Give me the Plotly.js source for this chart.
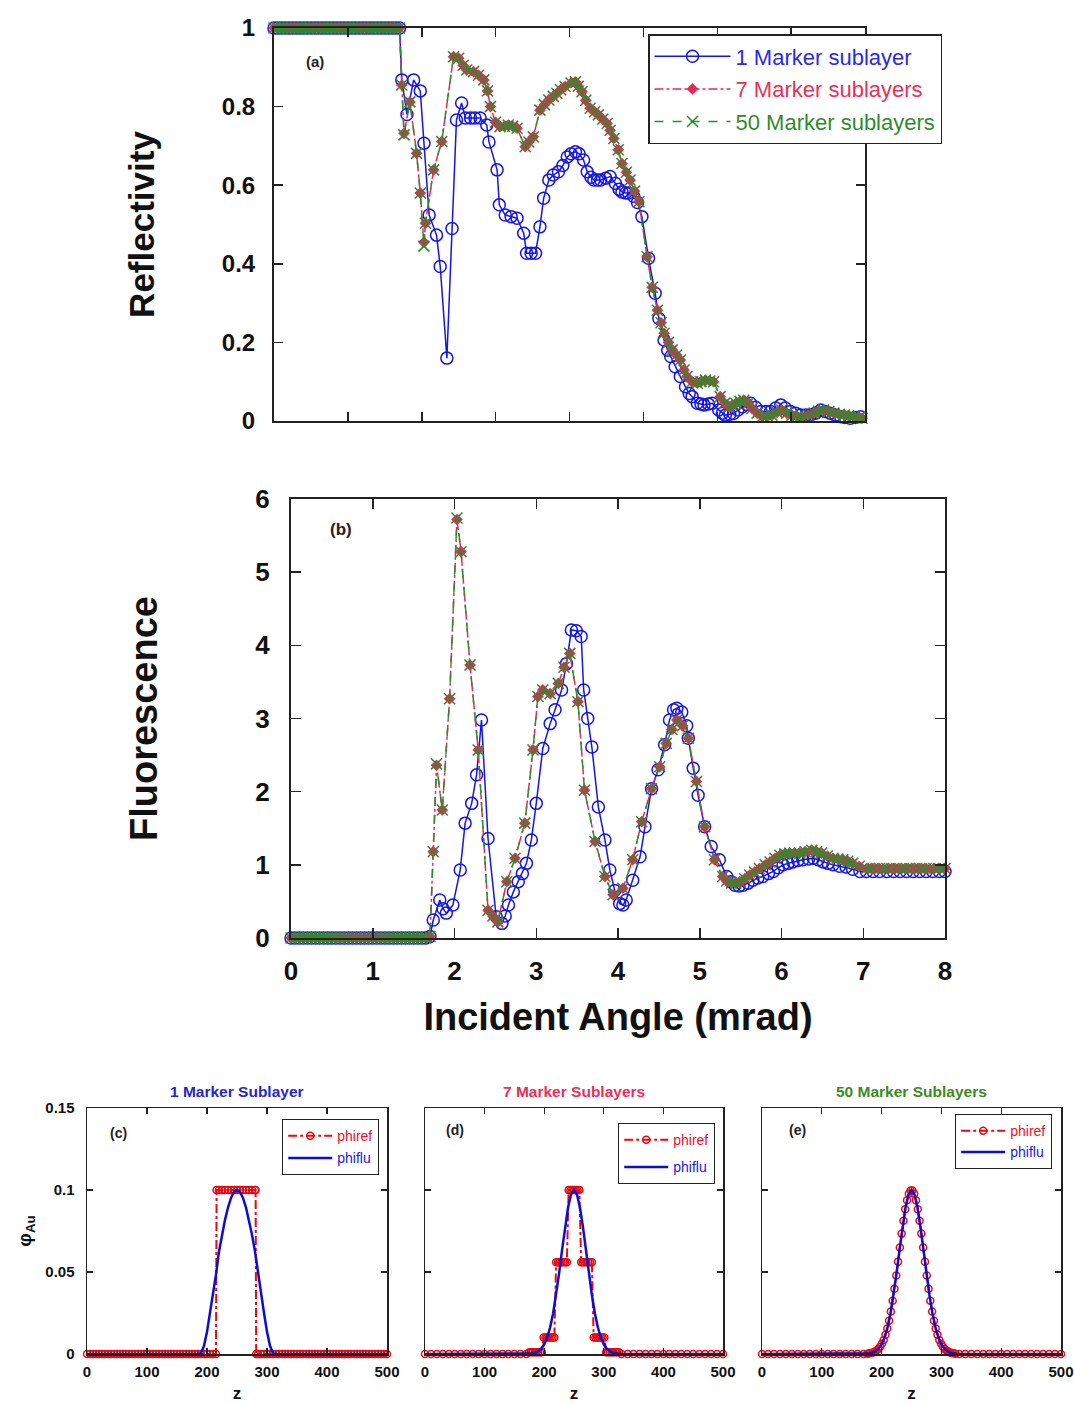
<!DOCTYPE html>
<html><head><meta charset="utf-8">
<script src="https://cdn.plot.ly/plotly-3.0.1.min.js"></script>
<style>html,body{margin:0;padding:0;background:#fff}</style>
</head><body>
<div id="chart" style="width:1074px;height:1404px"></div>
<script>
// ---------- DATA ----------
const flatAngles = [0,0.05,0.1,0.15,0.2,0.25,0.3,0.35,0.4,0.45,0.5,0.55,0.6,0.65,0.7,0.75,0.8,0.85,0.9,0.95,1,1.05,1.1,1.15,1.2,1.25,1.3,1.35,1.4,1.45,1.5,1.55,1.6,1.65];
const flatOnes = [1,1,1,1,1,1,1,1,1,1,1,1,1,1,1,1,1,1,1,1,1,1,1,1,1,1,1,1,1,1,1,1,1,1];
const flatZeros = [0,0,0,0,0,0,0,0,0,0,0,0,0,0,0,0,0,0,0,0,0,0,0,0,0,0,0,0,0,0,0,0,0,0];

// (a) Reflectivity
const angleRefl1 = flatAngles.concat([1.70,1.73,1.80,1.89,1.98,2.03,2.10,2.20,2.25,2.34,2.41,2.47,2.54,2.59,2.66,2.72,2.79,2.88,2.91,3.02,3.05,3.13,3.21,3.29,3.38,3.42,3.48,3.54,3.60,3.65,3.72,3.78,3.85,3.91,3.97,4.02,4.08,4.13,4.19,4.24,4.29,4.33,4.38,4.42,4.49,4.55,4.62,4.67,4.71,4.76,4.80,4.87,4.92,4.98,5.07,5.16,5.21,5.28,5.33,5.37,5.43,5.50,5.57,5.62,5.66,5.73,5.78,5.82,5.88,5.93,6.02,6.07,6.11,6.17,6.22,6.28,6.34,6.40,6.45,6.52,6.59,6.66,6.72,6.79,6.86,6.92,6.99,7.06,7.13,7.20,7.26,7.33,7.40,7.46,7.53,7.60,7.67,7.73,7.80,7.87,7.94]);
const refl1 = flatOnes.concat([1.0,0.868,0.78,0.868,0.84,0.707,0.524,0.473,0.393,0.16,0.49,0.766,0.809,0.771,0.771,0.771,0.771,0.753,0.71,0.639,0.55,0.524,0.52,0.516,0.478,0.427,0.427,0.427,0.494,0.567,0.613,0.626,0.634,0.65,0.672,0.68,0.685,0.68,0.664,0.634,0.62,0.613,0.613,0.613,0.618,0.622,0.605,0.59,0.583,0.58,0.58,0.571,0.556,0.52,0.414,0.325,0.261,0.206,0.18,0.164,0.138,0.113,0.087,0.07,0.062,0.045,0.043,0.041,0.043,0.045,0.028,0.02,0.015,0.017,0.019,0.028,0.036,0.042,0.045,0.035,0.024,0.024,0.024,0.033,0.041,0.033,0.024,0.02,0.015,0.015,0.015,0.02,0.028,0.024,0.02,0.015,0.011,0.009,0.007,0.009,0.011]);
const angleRefl7 = flatAngles.concat([1.70,1.73,1.76,1.84,1.93,1.98,2.03,2.05,2.16,2.27,2.43,2.50,2.56,2.61,2.70,2.77,2.84,2.89,2.93,3.00,3.06,3.12,3.17,3.23,3.29,3.40,3.45,3.51,3.60,3.66,3.72,3.78,3.83,3.88,3.94,4.02,4.08,4.12,4.17,4.22,4.28,4.34,4.39,4.45,4.51,4.55,4.60,4.66,4.71,4.77,4.82,4.88,4.94,5.05,5.12,5.19,5.24,5.28,5.34,5.39,5.45,5.50,5.55,5.59,5.66,5.73,5.78,5.84,5.90,5.95,6.04,6.10,6.16,6.20,6.25,6.31,6.36,6.42,6.47,6.54,6.61,6.68,6.74,6.81,6.87,6.94,7.01,7.08,7.15,7.23,7.31,7.37,7.44,7.51,7.58,7.65,7.72,7.78,7.85,7.92,7.96]);
const refl7 = flatOnes.concat([1.0,0.855,0.732,0.812,0.681,0.58,0.455,0.503,0.639,0.711,0.927,0.923,0.905,0.893,0.889,0.88,0.868,0.84,0.80,0.76,0.749,0.75,0.753,0.75,0.745,0.698,0.71,0.723,0.791,0.805,0.817,0.826,0.834,0.843,0.851,0.86,0.863,0.852,0.838,0.816,0.796,0.787,0.779,0.768,0.757,0.74,0.719,0.69,0.655,0.633,0.613,0.585,0.558,0.418,0.34,0.282,0.25,0.223,0.2,0.181,0.168,0.155,0.13,0.113,0.1,0.096,0.1,0.104,0.102,0.1,0.062,0.045,0.036,0.04,0.045,0.05,0.053,0.045,0.032,0.02,0.011,0.012,0.015,0.022,0.028,0.02,0.015,0.012,0.011,0.015,0.02,0.025,0.028,0.024,0.02,0.017,0.015,0.013,0.011,0.009,0.007]);
const angleRefl50 = angleRefl7;
const refl50 = flatOnes.concat([1.0,0.855,0.728,0.812,0.681,0.58,0.445,0.503,0.639,0.711,0.927,0.923,0.905,0.893,0.889,0.88,0.868,0.84,0.80,0.76,0.749,0.75,0.753,0.75,0.745,0.698,0.71,0.723,0.791,0.805,0.817,0.826,0.834,0.843,0.851,0.86,0.863,0.852,0.838,0.816,0.796,0.787,0.779,0.768,0.757,0.74,0.719,0.69,0.655,0.633,0.613,0.585,0.558,0.418,0.34,0.282,0.25,0.223,0.2,0.181,0.168,0.155,0.13,0.113,0.1,0.096,0.1,0.104,0.102,0.1,0.062,0.045,0.036,0.04,0.045,0.05,0.053,0.045,0.032,0.02,0.011,0.012,0.015,0.022,0.028,0.02,0.015,0.012,0.011,0.015,0.02,0.025,0.028,0.024,0.02,0.017,0.015,0.013,0.011,0.009,0.007]);

// (b) Fluorescence
const angleFluo1 = flatAngles.concat([1.70,1.74,1.82,1.86,1.90,1.98,2.07,2.13,2.21,2.27,2.33,2.41,2.51,2.58,2.62,2.66,2.72,2.78,2.83,2.88,2.94,3.00,3.08,3.17,3.23,3.31,3.37,3.43,3.49,3.55,3.58,3.63,3.68,3.76,3.84,3.90,3.96,4.02,4.06,4.10,4.18,4.27,4.33,4.41,4.49,4.57,4.63,4.68,4.72,4.78,4.84,4.86,4.92,4.98,5.06,5.14,5.24,5.33,5.38,5.43,5.48,5.53,5.59,5.65,5.71,5.77,5.84,5.90,5.96,6.02,6.08,6.14,6.20,6.26,6.33,6.39,6.45,6.51,6.57,6.63,6.71,6.79,6.87,6.96,7.04,7.12,7.20,7.29,7.37,7.45,7.53,7.61,7.69,7.77,7.85,7.93,8.0]);
const fluo1 = flatZeros.concat([0.02,0.246,0.52,0.40,0.34,0.45,0.93,1.57,1.84,2.23,2.98,1.36,0.29,0.2,0.3,0.45,0.63,0.77,0.88,1.02,1.34,1.84,2.59,2.93,3.12,3.39,3.75,4.21,4.2,4.12,3.39,3.0,2.61,1.79,1.34,0.93,0.65,0.47,0.45,0.52,0.79,1.11,1.52,2.04,2.30,2.64,2.98,3.12,3.14,3.09,2.9,2.73,2.32,1.95,1.52,1.25,1.07,0.84,0.77,0.72,0.71,0.72,0.75,0.79,0.82,0.84,0.88,0.91,0.96,1.00,1.02,1.04,1.06,1.07,1.08,1.09,1.07,1.04,1.02,1.00,0.98,0.97,0.94,0.91,0.91,0.91,0.91,0.91,0.91,0.91,0.91,0.91,0.91,0.91,0.91,0.91,0.91]);
const angleFluo7 = flatAngles.concat([1.70,1.74,1.78,1.85,1.94,2.03,2.08,2.19,2.29,2.41,2.47,2.53,2.64,2.74,2.86,2.96,3.02,3.08,3.17,3.27,3.34,3.41,3.51,3.59,3.72,3.84,3.94,4.06,4.18,4.29,4.41,4.51,4.59,4.66,4.72,4.79,4.86,4.96,5.06,5.18,5.28,5.33,5.39,5.44,5.49,5.55,5.61,5.67,5.73,5.80,5.86,5.92,5.98,6.04,6.10,6.16,6.22,6.29,6.37,6.43,6.49,6.56,6.63,6.69,6.75,6.81,6.87,6.95,7.04,7.12,7.20,7.29,7.37,7.45,7.53,7.61,7.69,7.77,7.86,7.93,8.0]);
const fluo7 = flatZeros.concat([0.02,1.18,2.36,1.75,3.27,5.72,5.28,3.73,2.57,0.38,0.30,0.22,0.77,1.09,1.57,2.57,3.3,3.39,3.34,3.48,3.7,3.89,3.23,2.02,1.32,0.84,0.59,0.68,1.07,1.59,2.04,2.34,2.66,2.85,2.98,2.9,2.73,2.14,1.52,1.07,0.84,0.78,0.75,0.75,0.77,0.81,0.86,0.9,0.95,1.0,1.04,1.09,1.13,1.15,1.16,1.16,1.16,1.18,1.20,1.18,1.16,1.12,1.09,1.08,1.07,1.05,1.02,0.98,0.95,0.95,0.95,0.95,0.95,0.95,0.95,0.95,0.95,0.95,0.95,0.95,0.95]);
const angleFluo50 = angleFluo7;
const fluo50 = flatZeros.concat([0.02,1.18,2.38,1.75,3.27,5.74,5.28,3.73,2.57,0.38,0.30,0.22,0.77,1.09,1.57,2.57,3.3,3.39,3.34,3.48,3.7,3.89,3.23,2.02,1.32,0.84,0.59,0.68,1.07,1.59,2.04,2.34,2.66,2.85,2.98,2.9,2.73,2.14,1.52,1.07,0.84,0.78,0.75,0.75,0.77,0.81,0.86,0.9,0.95,1.0,1.04,1.09,1.13,1.15,1.16,1.16,1.16,1.18,1.20,1.18,1.16,1.12,1.09,1.08,1.07,1.05,1.02,0.98,0.95,0.95,0.95,0.95,0.95,0.95,0.95,0.95,0.95,0.95,0.95,0.95,0.95]);

// (c) 1 marker sublayer
const zRefC = [0,5,10,15,20,25,30,35,40,45,50,55,60,65,70,75,80,85,90,95,100,105,110,115,120,125,130,135,140,145,150,155,160,165,170,175,180,185,190,195,200,205,210,215,216,220,225,230,235,240,245,250,255,260,265,270,275,280,281,282,285,290,295,300,305,310,315,320,325,330,335,340,345,350,355,360,365,370,375,380,385,390,395,400,405,410,415,420,425,430,435,440,445,450,455,460,465,470,475,480,485,490,495,500];
const phiRefC = [0,0,0,0,0,0,0,0,0,0,0,0,0,0,0,0,0,0,0,0,0,0,0,0,0,0,0,0,0,0,0,0,0,0,0,0,0,0,0,0,0,0,0,0,0.1,0.1,0.1,0.1,0.1,0.1,0.1,0.1,0.1,0.1,0.1,0.1,0.1,0.1,0.1,0,0,0,0,0,0,0,0,0,0,0,0,0,0,0,0,0,0,0,0,0,0,0,0,0,0,0,0,0,0,0,0,0,0,0,0,0,0,0,0,0,0,0,0,0];
const zFluC = [0,150,185,190,195,200,205,210,215,220,225,230,235,240,245,250,255,260,265,270,275,280,285,290,295,300,305,310,315,350,500];
const phiFluC = [0,0,0,0.0005,0.005,0.0135,0.025,0.0375,0.0485,0.0625,0.0727,0.0818,0.0893,0.0952,0.0988,0.1,0.0988,0.0952,0.0893,0.0818,0.0727,0.0625,0.0485,0.0375,0.025,0.0135,0.005,0.0005,0,0,0];

// (d) 7 marker sublayers
const zRefD = [0,10,20,30,40,50,60,70,80,90,100,110,120,130,140,150,160,170,175,178,181,184,187,190,193,196,199,202,205,208,211,214,217,220,223,226,229,232,235,238,241,244,247,250,253,256,259,262,265,268,271,274,277,280,283,286,289,292,295,298,301,304,307,310,313,316,319,322,325,330,340,350,360,370,380,390,400,410,420,430,440,450,460,470,480,490,500];
const phiRefD = [0,0,0,0,0,0,0,0,0,0,0,0,0,0,0,0,0,0,0.001,0.001,0.001,0.001,0.001,0.001,0.001,0.001,0.01,0.01,0.01,0.01,0.01,0.01,0.01,0.056,0.056,0.056,0.056,0.056,0.056,0.056,0.1,0.1,0.1,0.1,0.1,0.1,0.1,0.056,0.056,0.056,0.056,0.056,0.056,0.056,0.01,0.01,0.01,0.01,0.01,0.01,0.01,0.001,0.001,0.001,0.001,0.001,0.001,0.001,0.001,0,0,0,0,0,0,0,0,0,0,0,0,0,0,0,0,0,0];
const zFluDE = [0,150,175,180,185,190,195,200,205,210,215,220,225,230,235,240,245,250,255,260,265,270,275,280,285,290,295,300,305,310,315,320,325,350,500];
const phiFluD = [0,0,0.0002,0.0004,0.0008,0.0017,0.0032,0.0059,0.0101,0.0163,0.0249,0.036,0.0492,0.0635,0.0775,0.0893,0.0972,0.1,0.0972,0.0893,0.0775,0.0635,0.0492,0.036,0.0249,0.0163,0.0101,0.0059,0.0032,0.0017,0.0008,0.0004,0.0002,0,0];

// (e) 50 marker sublayers
const zRefE = [0,10,20,30,40,50,60,70,80,90,100,110,120,130,140,150,160,170,176.5,179.5,182.5,185.5,188.5,191.5,194.5,197.5,200.5,203.5,206.5,209.5,212.5,215.5,218.5,221.5,224.5,227.5,230.5,233.5,236.5,239.5,242.5,245.5,248.5,251.5,254.5,257.5,260.5,263.5,266.5,269.5,272.5,275.5,278.5,281.5,284.5,287.5,290.5,293.5,296.5,299.5,302.5,305.5,308.5,311.5,314.5,317.5,320.5,323.5,330,340,350,360,370,380,390,400,410,420,430,440,450,460,470,480,490,500];
const phiRefE = [0,0,0,0,0,0,0,0,0,0,0,0,0,0,0,0,0,0,0.0002,0.0004,0.0006,0.0009,0.0014,0.0021,0.003,0.0044,0.0062,0.0086,0.0117,0.0156,0.0203,0.0259,0.0325,0.0398,0.0478,0.0563,0.065,0.0734,0.0813,0.0882,0.0938,0.0977,0.0997,0.0997,0.0977,0.0938,0.0882,0.0813,0.0734,0.065,0.0563,0.0478,0.0398,0.0325,0.0259,0.0203,0.0156,0.0117,0.0086,0.0062,0.0044,0.003,0.0021,0.0014,0.0009,0.0006,0.0004,0.0002,0,0,0,0,0,0,0,0,0,0,0,0,0,0,0,0,0,0];
const phiFluE = phiFluD;

const angleTicks = [0,1,2,3,4,5,6,7,8];
const angleTickText = ['0','1','2','3','4','5','6','7','8'];
const reflTicks = [0,0.2,0.4,0.6,0.8,1];
const reflTickText = ['0','0.2','0.4','0.6','0.8','1'];
const fluoTicks = [0,1,2,3,4,5,6];
const fluoTickText = ['0','1','2','3','4','5','6'];
const zTicks = [0,100,200,300,400,500];
const zTickText = ['0','100','200','300','400','500'];
const phiTicks = [0,0.05,0.1,0.15];
const phiTickText = ['0','0.05','0.1','0.15'];

const seriesNames = ['1 Marker sublayer','7 Marker sublayers','50 Marker sublayers'];
const panelTitles = ['1 Marker Sublayer','7 Marker Sublayers','50 Marker Sublayers'];

// ---------- STYLE ----------
const FONT = 'Arial, "Liberation Sans", sans-serif';
const BLUE = '#1515e6', RED7 = '#e8285a', GREEN = '#2b8c2b';
const REF_RED = '#e60a12', FLU_BLUE = '#0d0dd0';
const W = 1074, H = 1404;
const px = v => v / W, py = v => 1 - v / H;

function s1(x, y, xa, ya, show) {
  return {x, y, xaxis: xa, yaxis: ya, type: 'scatter', mode: 'lines+markers', cliponaxis: false,
    name: '<span style="color:#2a2ae6">' + seriesNames[0] + '</span>', legendgroup: 'g1', showlegend: show,
    line: {color: BLUE, width: 1.5},
    marker: {symbol: 'circle-open', size: 12, color: BLUE, line: {color: BLUE, width: 1.5}}};
}
function s7(x, y, xa, ya, show) {
  return {x, y, xaxis: xa, yaxis: ya, type: 'scatter', mode: 'lines+markers', cliponaxis: false,
    name: '<span style="color:#e8305b">' + seriesNames[1] + '</span>', legendgroup: 'g2', showlegend: show,
    line: {color: RED7, width: 1.5, dash: 'dashdot'},
    marker: {symbol: 'diamond', size: 9, color: RED7, line: {width: 0}}};
}
function s50(x, y, xa, ya, show) {
  return {x, y, xaxis: xa, yaxis: ya, type: 'scatter', mode: 'lines+markers', cliponaxis: false,
    name: '<span style="color:#2e8b2e">' + seriesNames[2] + '</span>', legendgroup: 'g3', showlegend: show,
    line: {color: GREEN, width: 1.5, dash: 'dash'},
    marker: {symbol: 'x-thin-open', size: 11, color: GREEN, line: {color: GREEN, width: 1.5}}};
}
function ref(x, y, xa, ya, lg) {
  return {x, y, xaxis: xa, yaxis: ya, type: 'scatter', mode: 'lines+markers', cliponaxis: false,
    name: '<span style="color:#e8102a">phiref</span>', legend: lg, legendgroup: lg + 'r',
    line: {color: REF_RED, width: 2, dash: 'dashdot'},
    marker: {symbol: 'circle-open', size: 7, color: REF_RED, line: {color: REF_RED, width: 1.5}}};
}
function flu(x, y, xa, ya, lg) {
  return {x, y, xaxis: xa, yaxis: ya, type: 'scatter', mode: 'lines', cliponaxis: false,
    name: '<span style="color:#1a1ae0">phiflu</span>', legend: lg, legendgroup: lg + 'f',
    line: {color: FLU_BLUE, width: 2.5}};
}

const data = [
  s1(angleRefl1, refl1, 'x', 'y', true),
  s7(angleRefl7, refl7, 'x', 'y', true),
  s50(angleRefl50, refl50, 'x', 'y', true),
  s1(angleFluo1, fluo1, 'x2', 'y2', false),
  s7(angleFluo7, fluo7, 'x2', 'y2', false),
  s50(angleFluo50, fluo50, 'x2', 'y2', false),
  ref(zRefC, phiRefC, 'x3', 'y3', 'legend2'),
  flu(zFluC, phiFluC, 'x3', 'y3', 'legend2'),
  ref(zRefD, phiRefD, 'x4', 'y4', 'legend3'),
  flu(zFluDE, phiFluD, 'x4', 'y4', 'legend3'),
  ref(zRefE, phiRefE, 'x5', 'y5', 'legend4'),
  flu(zFluDE, phiFluE, 'x5', 'y5', 'legend4')
];

const frame = {showline: true, linecolor: '#222', linewidth: 2, mirror: 'ticks', ticks: 'inside',
  tickcolor: '#222', tickwidth: 1.5, showgrid: false, zeroline: false, automargin: false};
const frameSmall = Object.assign({}, frame, {linewidth: 1.5, ticklen: 6, tickwidth: 1.2});
const bold = (size, color) => ({family: FONT, size: size, weight: 'bold', color: color || '#111'});

const layout = {
  width: W, height: H, margin: {l: 0, r: 0, t: 0, b: 0},
  paper_bgcolor: '#fff', plot_bgcolor: '#fff', showlegend: true,
  font: {family: FONT, color: '#111'},
  xaxis: Object.assign({}, frame, {domain: [px(274), px(865)], range: [0, 8], anchor: 'y',
    tickvals: angleTicks, ticktext: angleTickText, showticklabels: false, ticklen: 9}),
  yaxis: Object.assign({}, frame, {domain: [py(421), py(28)], range: [0, 1], anchor: 'x',
    tickvals: reflTicks, ticktext: reflTickText, ticklen: 9, ticklabelstandoff: 12,
    tickfont: bold(24),
    title: {text: 'Reflectivity', standoff: 57, font: bold(35)}}),
  xaxis2: Object.assign({}, frame, {domain: [px(291), px(945)], range: [0, 8], anchor: 'y2',
    tickvals: angleTicks, ticktext: angleTickText, ticklen: 10, ticklabelstandoff: 9,
    tickfont: bold(26),
    title: {text: 'Incident Angle (mrad)', standoff: 18, font: bold(38)}}),
  yaxis2: Object.assign({}, frame, {domain: [py(938), py(499)], range: [0, 6], anchor: 'x2',
    tickvals: fluoTicks, ticktext: fluoTickText, ticklen: 10, ticklabelstandoff: 14,
    tickfont: bold(26),
    title: {text: 'Fluorescence', standoff: 86, font: bold(38)}}),
  xaxis3: Object.assign({}, frameSmall, {domain: [px(87), px(387)], range: [0, 500], anchor: 'y3',
    tickvals: zTicks, ticktext: zTickText, ticklabelstandoff: 3, tickfont: bold(15),
    title: {text: 'z', standoff: 8, font: bold(17)}}),
  yaxis3: Object.assign({}, frameSmall, {domain: [py(1354), py(1108)], range: [0, 0.15], anchor: 'x3',
    tickvals: phiTicks, ticktext: phiTickText, ticklabelstandoff: 8, tickfont: bold(15),
    title: {text: 'φ<sub>Au</sub>', standoff: 8, font: bold(19)}}),
  xaxis4: Object.assign({}, frameSmall, {domain: [px(425), px(723)], range: [0, 500], anchor: 'y4',
    tickvals: zTicks, ticktext: zTickText, ticklabelstandoff: 3, tickfont: bold(15),
    title: {text: 'z', standoff: 8, font: bold(17)}}),
  yaxis4: Object.assign({}, frameSmall, {domain: [py(1354), py(1108)], range: [0, 0.15], anchor: 'x4',
    tickvals: phiTicks, showticklabels: false}),
  xaxis5: Object.assign({}, frameSmall, {domain: [px(762), px(1061)], range: [0, 500], anchor: 'y5',
    tickvals: zTicks, ticktext: zTickText, ticklabelstandoff: 3, tickfont: bold(15),
    title: {text: 'z', standoff: 8, font: bold(17)}}),
  yaxis5: Object.assign({}, frameSmall, {domain: [py(1354), py(1108)], range: [0, 0.15], anchor: 'x5',
    tickvals: phiTicks, showticklabels: false}),
  legend: {x: px(648), y: py(34), xanchor: 'left', yanchor: 'top', bgcolor: '#fff',
    bordercolor: '#222', borderwidth: 1.5, font: {family: FONT, size: 22}, itemwidth: 76, tracegroupgap: 1},
  legend2: {x: px(282), y: py(1119), xanchor: 'left', yanchor: 'top', bgcolor: '#fff',
    bordercolor: '#222', borderwidth: 1.2, font: {family: FONT, size: 14}, itemwidth: 44, tracegroupgap: 1},
  legend3: {x: px(618), y: py(1123), xanchor: 'left', yanchor: 'top', bgcolor: '#fff',
    bordercolor: '#222', borderwidth: 1.2, font: {family: FONT, size: 14}, itemwidth: 44, tracegroupgap: 6},
  legend4: {x: px(955), y: py(1114), xanchor: 'left', yanchor: 'top', bgcolor: '#fff',
    bordercolor: '#222', borderwidth: 1.2, font: {family: FONT, size: 14}, itemwidth: 44, tracegroupgap: 0},
  annotations: [
    {text: '(a)', x: px(315), y: py(62), size: 15},
    {text: '(b)', x: px(341), y: py(530), size: 17},
    {text: '(c)', x: px(118), y: py(1133), size: 14},
    {text: '(d)', x: px(455), y: py(1130), size: 14},
    {text: '(e)', x: px(797), y: py(1130), size: 14}
  ].map(a => ({text: a.text, x: a.x, y: a.y, xref: 'paper', yref: 'paper', xanchor: 'center', yanchor: 'middle',
    showarrow: false, font: bold(a.size, '#222')})).concat([
    {text: panelTitles[0], x: px(237), color: '#2626c8'},
    {text: panelTitles[1], x: px(574), color: '#e8305b'},
    {text: panelTitles[2], x: px(911), color: '#3d8b1e'}
  ].map(a => ({text: a.text, x: a.x, y: py(1091), xref: 'paper', yref: 'paper', xanchor: 'center', yanchor: 'middle',
    showarrow: false, font: bold(15.5, a.color)})))
};

Plotly.newPlot('chart', data, layout, {displayModeBar: false, staticPlot: true});
</script>
</body></html>
